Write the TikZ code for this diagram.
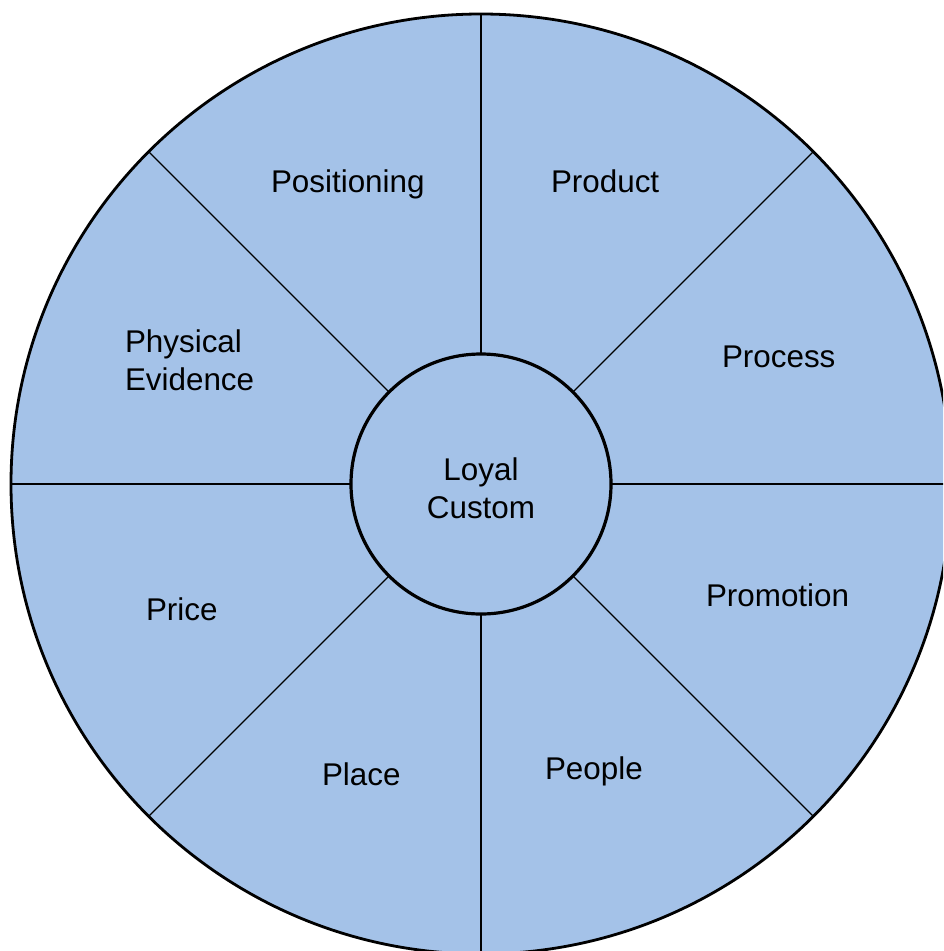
\documentclass[tikz,border=0pt]{standalone}
\usepackage{fontspec}
\setmainfont{Liberation Sans}
\definecolor{wheelfill}{RGB}{164,194,232}
\tikzset{
  wheel/.style={circle, draw=black, fill=wheelfill, inner sep=0pt, outer sep=0pt},
  spoke/.style={draw=black, line width=1.3pt},
  axisspoke/.style={draw=black, line width=1.8pt},
  lbl/.style={anchor=base west, inner sep=0pt, outer sep=0pt, text=black,
              font=\fontsize{31.4}{37.7}\selectfont},
}
\begin{document}
\begin{tikzpicture}[x=1pt,y=-1pt]
\clip (0,0) rectangle (943,951);
\fill[white] (0,0) rectangle (943,951);
\node[wheel, line width=2.8pt, minimum size=940pt] (outer) at (481,484) {};
\node[wheel, line width=3.2pt, minimum size=260pt] (hub) at (481,484) {};
\foreach \a in {45,135,225,315} {
  \draw[spoke] (hub.\a) -- (outer.\a);
}
\foreach \a in {0,90,180,270} {
  \draw[axisspoke] (hub.\a) -- (outer.\a);
}
\node[lbl, anchor=base] (loyal) at (481,480) {Loyal};
\node[lbl, anchor=base] (custom) at (481,518) {Custom};
\node[lbl] (positioning) at (271,192) {Positioning};
\node[lbl] (product) at (551,192) {Product};
\node[lbl] (process) at (722,367) {Process};
\node[lbl] (physical) at (125,352) {Physical};
\node[lbl] (evidence) at (125,390) {Evidence};
\node[lbl] (promotion) at (706,606) {Promotion};
\node[lbl] (price) at (146,620) {Price};
\node[lbl] (place) at (322,785) {Place};
\node[lbl] (people) at (545,779) {People};
\end{tikzpicture}
\end{document}
